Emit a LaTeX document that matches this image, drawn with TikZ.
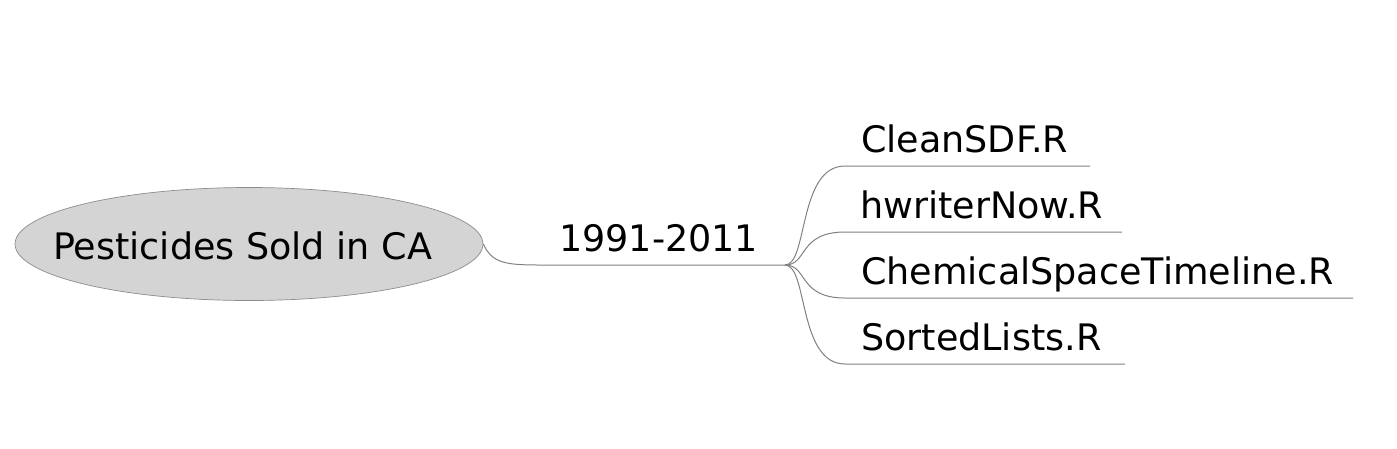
\documentclass[tikz,border=0pt]{standalone}
\usepackage{fontspec}
\setmainfont{DejaVu Sans}
\usetikzlibrary{shapes.geometric}
\begin{document}
\begin{tikzpicture}[x=1pt,y=-1pt,
  edge/.style={draw=black!50, line width=1pt},
  lbl/.style={anchor=base west, inner sep=0pt, font=\fontsize{36.5}{43}\selectfont},
  rootshape/.style={ellipse, draw=black!45, fill=black!17, line width=0.7pt, minimum width=468pt, minimum height=113pt, inner sep=0pt}]
\useasboundingbox (0,0) rectangle (1397,448);
\node[rootshape] (root) at (249,244) {};
\node[lbl] (roottext) at (53,259) {Pesticides Sold in CA};
\coordinate (a) at (540,265);
\coordinate (j) at (785,265);
\node[lbl] (yr) at (559,251) {1991-2011};
\draw[edge] (root.east) .. controls (492,263) and (505,265) .. (a) -- (j);
% children
\coordinate (s1) at (845,166); \coordinate (e1) at (1090,166);
\coordinate (s2) at (845,232); \coordinate (e2) at (1122,232);
\coordinate (s3) at (845,298); \coordinate (e3) at (1353,298);
\coordinate (s4) at (845,364); \coordinate (e4) at (1125,364);
\draw[edge] (j) .. controls (808,265) and (798,166) .. (s1) -- (e1);
\draw[edge] (j) .. controls (808,265) and (798,232) .. (s2) -- (e2);
\draw[edge] (j) .. controls (808,265) and (798,298) .. (s3) -- (e3);
\draw[edge] (j) .. controls (808,265) and (798,364) .. (s4) -- (e4);
\node[lbl] (c1) at (861,152) {CleanSDF.R};
\node[lbl] (c2) at (860,218) {hwriterNow.R};
\node[lbl] (c3) at (861,284) {ChemicalSpaceTimeline.R};
\node[lbl] (c4) at (861,350) {SortedLists.R};
\end{tikzpicture}
\end{document}
